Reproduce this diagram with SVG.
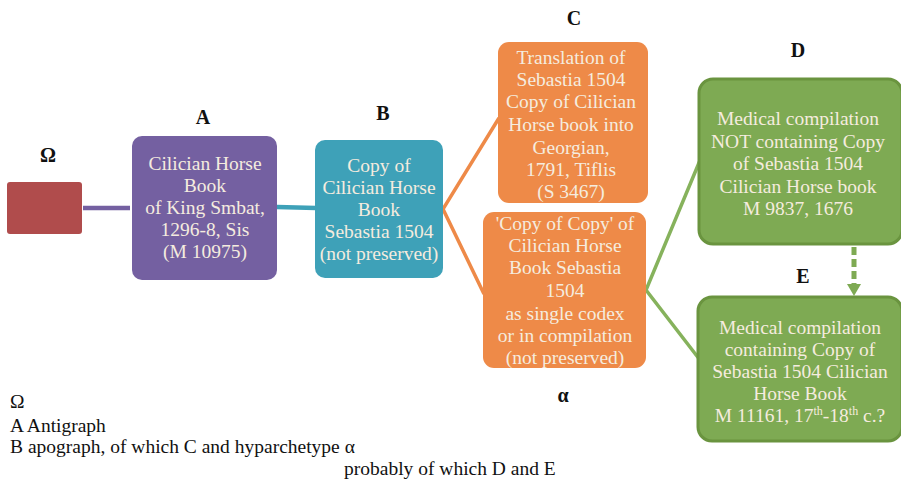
<svg xmlns="http://www.w3.org/2000/svg" width="901" height="485" viewBox="0 0 901 485">
<defs>
<style>
.lbl{font-family:"Liberation Serif","Times New Roman",serif;font-weight:bold;font-size:20px;fill:#111;text-anchor:middle}
.nt{font-family:"Liberation Serif","Times New Roman",serif;font-size:19.5px;fill:#f5ecdf;text-anchor:middle}
.lg{font-family:"Liberation Serif","Times New Roman",serif;font-size:19.5px;fill:#111}
.conn{fill:none;stroke-linecap:butt;stroke-linejoin:miter}
</style>
<marker id="ah" viewBox="0 0 10 10" refX="5" refY="10" markerWidth="3" markerHeight="3" orient="auto" markerUnits="strokeWidth">
<path d="M0,0 L10,0 L5,10 Z" fill="#7eaa53"/>
</marker>
</defs>
<rect width="901" height="485" fill="#fff"/>
<g id="connectors" class="conn">
<line x1="83" y1="208" x2="130" y2="208" stroke="#7460a1" stroke-width="4.5"/>
<line x1="277" y1="207" x2="316" y2="208" stroke="#3ea1b8" stroke-width="4.5"/>
<polyline points="499,118 443,209 484,294" stroke="#ee8a48" stroke-width="3.5"/>
<polyline points="701,158 646,290 700,360" stroke="#86b25c" stroke-width="3.5"/>
<line x1="854" y1="247" x2="854" y2="284" stroke="#7eaa53" stroke-width="5" stroke-dasharray="8,4"/>
<path d="M847,284 L861,284 L854,296 Z" fill="#7eaa53"/>
</g>
<g id="node-omega">
<text class="lbl" x="48" y="162">Ω</text>
<rect x="7" y="182" width="75" height="52" rx="3" fill="#b04c4c"/>
</g>
<g id="node-A">
<text class="lbl" x="203" y="124">A</text>
<rect x="132" y="136" width="145" height="144" rx="10" fill="#7460a1"/>
<text class="nt" x="205" y="170">Cilician Horse</text>
<text class="nt" x="205" y="192">Book</text>
<text class="nt" x="205" y="214">of King Smbat,</text>
<text class="nt" x="205" y="236">1296-8, Sis</text>
<text class="nt" x="205" y="258">(M 10975)</text>
</g>
<g id="node-B">
<text class="lbl" x="383" y="120">B</text>
<rect x="315" y="140" width="128" height="138" rx="10" fill="#3ea1b8"/>
<text class="nt" x="379" y="172">Copy of</text>
<text class="nt" x="379" y="194">Cilician Horse</text>
<text class="nt" x="379" y="216">Book</text>
<text class="nt" x="379" y="238">Sebastia 1504</text>
<text class="nt" x="379" y="260">(not preserved)</text>
</g>
<g id="node-C">
<text class="lbl" x="574" y="25">C</text>
<rect x="498" y="42" width="150" height="161" rx="11" fill="#ee8a48"/>
<text class="nt" x="571" y="64">Translation of</text>
<text class="nt" x="571" y="86">Sebastia 1504</text>
<text class="nt" x="571" y="108">Copy of Cilician</text>
<text class="nt" x="571" y="131">Horse book into</text>
<text class="nt" x="571" y="154">Georgian,</text>
<text class="nt" x="571" y="176">1791, Tiflis</text>
<text class="nt" x="571" y="198">(S 3467)</text>
</g>
<g id="node-alpha">
<rect x="483" y="212" width="163" height="156" rx="11" fill="#ee8a48"/>
<text class="nt" x="565" y="230">'Copy of Copy' of</text>
<text class="nt" x="565" y="252">Cilician Horse</text>
<text class="nt" x="565" y="274">Book Sebastia</text>
<text class="nt" x="565" y="297">1504</text>
<text class="nt" x="565" y="320">as single codex</text>
<text class="nt" x="565" y="342">or in compilation</text>
<text class="nt" x="565" y="364">(not preserved)</text>
<text class="lbl" x="563" y="402">α</text>
</g>
<g id="node-D">
<text class="lbl" x="798" y="57">D</text>
<rect x="699" y="79" width="203" height="165" rx="14" fill="#7eaa53" stroke="#6a943f" stroke-width="3"/>
<text class="nt" x="798" y="125">Medical compilation</text>
<text class="nt" x="798" y="148">NOT containing Copy</text>
<text class="nt" x="798" y="170">of Sebastia 1504</text>
<text class="nt" x="798" y="193">Cilician Horse book</text>
<text class="nt" x="798" y="215">M 9837, 1676</text>
</g>
<g id="node-E">
<text class="lbl" x="803" y="283">E</text>
<rect x="698" y="297" width="204" height="144" rx="14" fill="#7eaa53" stroke="#6a943f" stroke-width="3"/>
<text class="nt" x="800" y="334">Medical compilation</text>
<text class="nt" x="800" y="356">containing Copy of</text>
<text class="nt" x="800" y="378">Sebastia 1504 Cilician</text>
<text class="nt" x="800" y="400">Horse Book</text>
<text class="nt" x="800" y="422">M 11161, 17<tspan font-size="12" dy="-7">th</tspan><tspan dy="7">-18</tspan><tspan font-size="12" dy="-7">th</tspan><tspan dy="7"> c.?</tspan></text>
</g>
<g id="legend">
<text class="lg" x="10" y="408">Ω</text>
<text class="lg" x="10" y="432">A Antigraph</text>
<text class="lg" x="10" y="453">B apograph, of which C and hyparchetype α</text>
<text class="lg" x="344" y="475">probably of which D and E</text>
</g>
</svg>
